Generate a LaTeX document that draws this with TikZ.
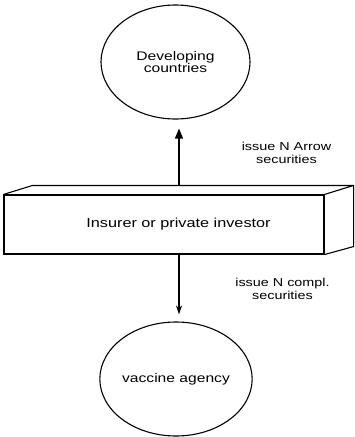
\documentclass[tikz,border=0pt]{standalone}
\usepackage{fontspec}
\newfontfamily\widesans[FakeStretch=1.25]{Liberation Sans}
\usetikzlibrary{shapes.geometric,arrows.meta,calc}
\begin{document}
\begin{tikzpicture}[x=1pt,y=-1pt,
  line width=1.1pt,
  party/.style={ellipse,draw,minimum width=149pt,minimum height=114pt,inner sep=0pt,
    align=center,font=\widesans\fontsize{12.5}{12}\selectfont},
  slab/.style={rectangle,draw,minimum width=320pt,minimum height=59pt,inner sep=0pt,
    font=\widesans\fontsize{13}{15}\selectfont},
  note/.style={align=center,font=\widesans\fontsize{11.5}{13.5}\selectfont},
  upflow/.style={-{Triangle[length=10pt,width=8pt]},line width=1.3pt},
  downflow/.style={-{Stealth[length=9pt,width=6pt,inset=3pt]},line width=1.1pt}]
\useasboundingbox (0,0) rectangle (354,437);

% parties
\node[party] (dev) at (175.5,62) {Developing\\countries};
\node[party] (vac) at (176,379) {vaccine agency};

% investor slab, drawn as a block with top and side faces
\node[slab] (inv) at (164,224.5) {\hspace*{29pt}Insurer or private investor};
\coordinate (tl) at ($(inv.north west)+(29,-9)$);
\coordinate (tr) at ($(inv.north east)+(29,-9)$);
\coordinate (br) at ($(inv.south east)+(29,-8)$);
\draw[line join=round] (inv.north west) -- (tl) -- (tr) -- (inv.north east);
\draw[line join=round] (tr) -- (br) -- (inv.south east);

% flows of securities
\coordinate (upfoot) at (179,186);
\coordinate (downfoot) at (179,254);
\draw[upflow] (upfoot) -- ([yshift=-9pt]dev.south -| upfoot);
\draw[downflow] (downfoot) -- ([yshift=7pt]vac.north -| downfoot);

\node[note] (arrowsec) at (286.5,153) {issue N Arrow\\securities};
\node[note] (complsec) at (282.5,289) {issue N compl.\\securities};
\end{tikzpicture}
\end{document}
